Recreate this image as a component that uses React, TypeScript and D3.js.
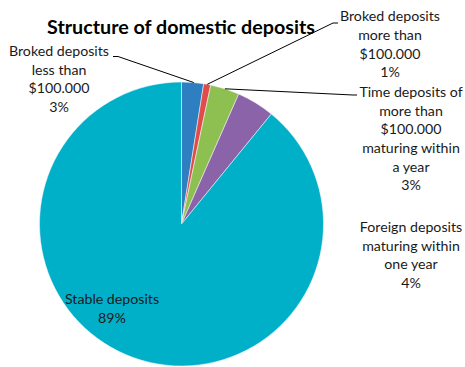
import React from "react";
import * as d3 from "d3";

const categories = [
  "Broked deposits less than $100.000",
  "Broked deposits more than $100.000",
  "Time deposits of more than $100.000 maturing within a year",
  "Foreign deposits maturing within one year",
  "Stable deposits",
];
const values = [2.5, 0.8, 3.3, 4.3, 89.1];
const percentLabels = ["3%", "1%", "3%", "4%", "89%"];
const colors = ["#2E7FC2", "#E04B4B", "#8DC050", "#8A63A8", "#00AFC8"];
const labelLines = [
  ["Broked deposits", "less than", "$100.000", "3%"],
  ["Broked deposits", "more than", "$100.000", "1%"],
  ["Time deposits of", "more than", "$100.000", "maturing within", "a year", "3%"],
  ["Foreign deposits", "maturing within", "one year", "4%"],
  ["Stable deposits", "89%"],
];

const W = 465;
const H = 367;
const cx = 181.5;
const cy = 224;
const R = 142;

// label layout: [centerX, firstLineCenterY, lineHeight]
const labelPos: [number, number, number][] = [
  [59, 51, 18.7],
  [390, 16, 18.8],
  [411, 92, 18.7],
  [411, 227, 18.7],
  [112, 299, 19],
];

export default function App() {
  const pie = d3.pie<number>().sort(null).value((d) => d);
  const arcs = pie(values);
  const arc = d3.arc<d3.PieArcDatum<number>>().innerRadius(0).outerRadius(R);
  const font = "Lato, 'Liberation Sans', sans-serif";

  const edge = (a: d3.PieArcDatum<number>, t: number) => {
    const ang = a.startAngle + (a.endAngle - a.startAngle) * t;
    return [cx + R * Math.sin(ang), cy - R * Math.cos(ang)];
  };

  const b0 = edge(arcs[0], 0.55);
  const b1 = edge(arcs[1], 0.5);
  const b2 = edge(arcs[2], 0.5);

  const leaders = [
    `M113,56.5 L118,56.5 L${b0[0]},${b0[1]}`,
    `M338,23 L333,23 L${b1[0]},${b1[1]}`,
    `M357,95 L353,95 L${b2[0]},${b2[1]}`,
  ];

  return (
    <svg width={W} height={H} style={{ display: "block", position: "absolute", left: 0, top: 0 }}>
      <rect width={W} height={H} fill="#fff" />
      <g transform={`translate(${cx},${cy})`}>
        {arcs.map((a, i) => (
          <path key={categories[i]} d={arc(a) || ""} fill={colors[i]} stroke="#fff" strokeWidth={0.5} />
        ))}
      </g>
      <text x={181} y={34} textAnchor="middle" fontFamily={font} fontWeight="bold" fontSize={19.7} fill="#000">
        Structure of domestic deposits
      </text>
      {leaders.map((d, i) => (
        <path key={i} d={d} fill="none" stroke="#000" strokeWidth={1} />
      ))}
      {labelLines.map((lines, i) => (
        <text key={i} textAnchor="middle" fontFamily={font} fontSize={14.2} fill="#1a1a1a">
          {lines.map((ln, j) => (
            <tspan key={j} x={labelPos[i][0]} y={labelPos[i][1] + j * labelPos[i][2]} dy="0.35em">
              {ln === percentLabels[i] ? percentLabels[i] : ln}
            </tspan>
          ))}
        </text>
      ))}
    </svg>
  );
}
